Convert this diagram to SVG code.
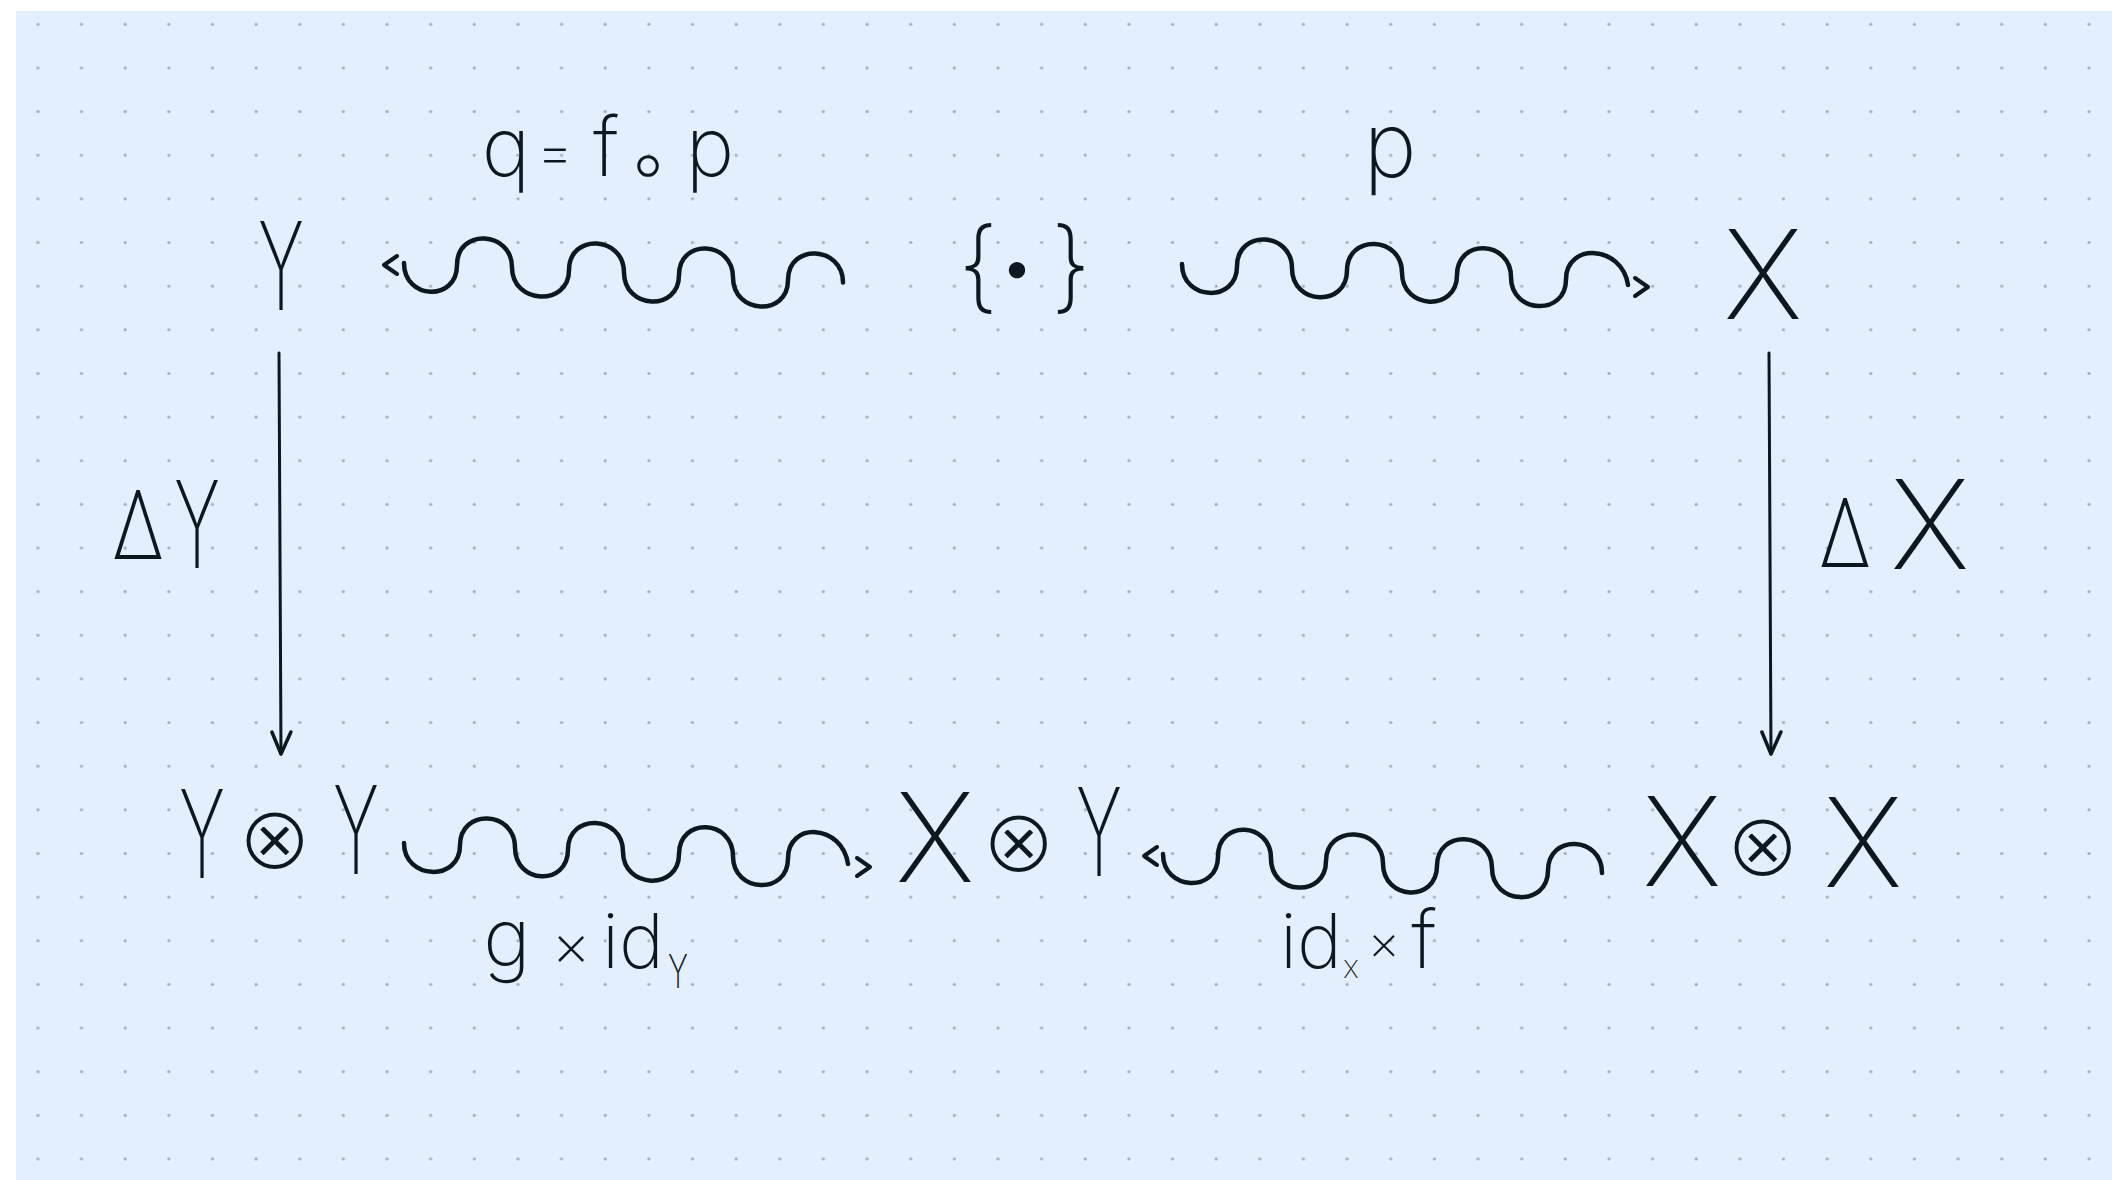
<svg xmlns="http://www.w3.org/2000/svg" xmlns:xlink="http://www.w3.org/1999/xlink" width="2112" height="1180" viewBox="0 0 2112 1180">
  <defs>
    <style>
      .ink { fill: none; stroke: #0d1720; stroke-linecap: round; stroke-linejoin: round; }
      .wave { stroke-width: 4.5; }
      .shaft { stroke-width: 3; }
      .chev { stroke-width: 4; }
      .t { font-family: "Inter", "DejaVu Sans", sans-serif; font-weight: 200; fill: #0d1720; text-anchor: middle; }
      .sym { font-family: "DejaVu Sans", sans-serif; font-weight: 200; stroke: #e3effd; stroke-width: 2.6; }
      .op { font-family: "DejaVu Sans", sans-serif; font-weight: 200; }
      .start { text-anchor: start; }
    </style>
    <pattern id="dots" x="0" y="0" width="43.64" height="43.64" patternUnits="userSpaceOnUse">
      <circle cx="37.9" cy="24.3" r="1.6" fill="#a3adb9"/>
    </pattern>
    <path id="chevron" class="ink chev" d="M-13,-9 L0,0 L-13,9"/>
    <marker id="vhead" markerUnits="userSpaceOnUse" markerWidth="30" markerHeight="30" refX="0" refY="0" viewBox="-26 -15 30 30" orient="auto" overflow="visible">
      <path class="ink" stroke-width="3.5" d="M-22,-10 L0,0 L-22,9"/>
    </marker>
  </defs>

  <rect x="0" y="0" width="2112" height="1180" fill="#ffffff"/>
  <rect x="16" y="11" width="2096" height="1169" fill="#e3effd"/>
  <rect x="16" y="11" width="2096" height="1169" fill="url(#dots)"/>

  <g id="connectors">
    <g id="edge-q">
      <path class="ink wave" d="M404,263 C404,300 457,302 457,265 C457,228 512,230.5 512,267.5 C512,304.5 569,307 569,270 C569,233 624,235.5 624,272.5 C624,309.5 679,312 679,275 C679,238 733,240.5 733,277.5 C733,314.5 788,317 788,280 C788,243 843,245.5 843,282.5"/>
      <use xlink:href="#chevron" href="#chevron" transform="translate(384,265) rotate(180)"/>
      <text class="t" font-size="82"><tspan x="506" y="176">q</tspan><tspan x="555" y="172" font-size="58">=</tspan><tspan x="606" y="176">f</tspan><tspan class="op" x="648" y="191" font-size="80">∘</tspan><tspan x="710" y="176">p</tspan></text>
    </g>
    <g id="edge-p">
      <path class="ink wave" d="M1182,264 C1182,301 1237,303.2 1237,266.2 C1237,229.2 1292,231.4 1292,268.4 C1292,305.4 1347,307.6 1347,270.6 C1347,233.6 1402,235.8 1402,272.8 C1402,309.8 1457,312 1457,275 C1457,238 1511,240.2 1511,277.2 C1511,314.2 1566,316.4 1566,279.4 C1566,242.4 1622,244.6 1628,285"/>
      <use xlink:href="#chevron" href="#chevron" transform="translate(1648,287)"/>
      <text class="t" font-size="90" x="1390" y="177">p</text>
    </g>
    <g id="edge-deltaY">
      <path class="ink shaft" d="M279,353 L281,754" marker-end="url(#vhead)"/>
      <text class="t"><tspan x="138" y="559" font-size="95" textLength="52" lengthAdjust="spacingAndGlyphs">Δ</tspan><tspan x="197" y="568" font-size="121" textLength="46" lengthAdjust="spacingAndGlyphs">Y</tspan></text>
    </g>
    <g id="edge-deltaX">
      <path class="ink shaft" d="M1769,353 L1771,754" marker-end="url(#vhead)"/>
      <text class="t"><tspan x="1845" y="567" font-size="95" textLength="52" lengthAdjust="spacingAndGlyphs">Δ</tspan><tspan x="1930" y="569" font-size="124">X</tspan></text>
    </g>
    <g id="edge-g">
      <path class="ink wave" d="M404,843 C404,880 460,882.2 460,845.2 C460,808.2 515,810.4 515,847.4 C515,884.4 568,886.6 568,849.6 C568,812.6 623,814.8 623,851.8 C623,888.8 679,891 679,854 C679,817 733,819.2 733,856.2 C733,893.2 788,895.4 788,858.4 C788,821.4 842,823.6 848,864"/>
      <use xlink:href="#chevron" href="#chevron" transform="translate(870,867)"/>
      <text class="t" font-size="80"><tspan x="507" y="966">g</tspan><tspan x="571" y="966" font-size="60">×</tspan><tspan class="start" x="602" y="968" font-size="76">id</tspan><tspan x="678" y="988" font-size="46" textLength="20" lengthAdjust="spacingAndGlyphs">Y</tspan></text>
    </g>
    <g id="edge-f">
      <path class="ink wave" d="M1163,854 C1163,891 1218,893.4 1218,856.4 C1218,819.4 1271,821.6 1271,858.6 C1271,895.6 1326,898 1326,861 C1326,824 1383,826.5 1383,863.5 C1383,900.5 1437,902.8 1437,865.8 C1437,828.8 1492,831.1 1492,868.1 C1492,905.1 1548,907.6 1548,870.6 C1548,833.6 1602,835.9 1602,872.9"/>
      <use xlink:href="#chevron" href="#chevron" transform="translate(1144,856) rotate(180)"/>
      <text class="t" font-size="80"><tspan class="start" x="1280" y="968" font-size="76">id</tspan><tspan x="1351" y="978" font-size="24">X</tspan><tspan x="1384" y="960" font-size="50">×</tspan><tspan x="1424" y="968">f</tspan></text>
    </g>
  </g>

  <g id="node-Y">
    <text class="t" x="281" y="310" font-size="122" textLength="46" lengthAdjust="spacingAndGlyphs">Y</text>
  </g>
  <g id="node-point">
    <text class="t" font-size="100"><tspan x="978" y="300">{</tspan><tspan x="1017" y="291" font-size="72">•</tspan><tspan x="1071" y="300">}</tspan></text>
  </g>
  <g id="node-X">
    <text class="t" x="1763" y="319" font-size="124">X</text>
  </g>
  <g id="node-YY">
    <text class="t" font-size="122"><tspan x="202" y="878" textLength="46" lengthAdjust="spacingAndGlyphs">Y</tspan><tspan class="sym" x="274" y="869" font-size="90">⊗</tspan><tspan x="356" y="874" textLength="46" lengthAdjust="spacingAndGlyphs">Y</tspan></text>
  </g>
  <g id="node-XY">
    <text class="t" font-size="122"><tspan x="935" y="882" font-size="124">X</tspan><tspan class="sym" x="1018" y="872" font-size="90">⊗</tspan><tspan x="1099" y="876" textLength="46" lengthAdjust="spacingAndGlyphs">Y</tspan></text>
  </g>
  <g id="node-XX">
    <text class="t" font-size="124"><tspan x="1682" y="886">X</tspan><tspan class="sym" x="1762" y="876" font-size="90">⊗</tspan><tspan x="1863" y="887">X</tspan></text>
  </g>
</svg>
